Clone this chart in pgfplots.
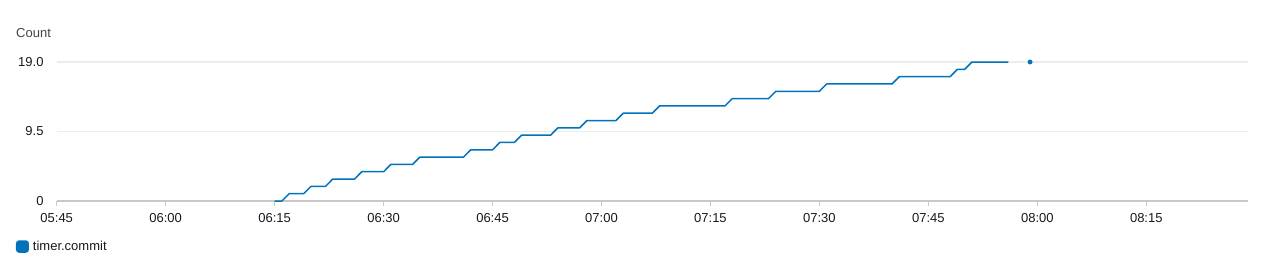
\documentclass[border=0pt]{standalone}
\usepackage{pgfplots}
\pgfplotsset{compat=1.18}
\usepackage{fontspec}
\setmainfont{Liberation Sans}
\definecolor{cwblue}{RGB}{0,115,187}
\definecolor{axgray}{RGB}{200,200,200}
\definecolor{gridgray}{RGB}{236,236,236}
\definecolor{txt}{RGB}{22,25,31}
\definecolor{lbl}{RGB}{68,68,68}
\begin{document}
\begin{tikzpicture}
\path[use as bounding box] (-56.7pt,-73pt) rectangle (1219.3pt,201pt);
\begin{axis}[
  at={(0pt,0pt)}, anchor=south west,
  scale only axis, width=1191.3pt, height=139pt,
  xmin=345, xmax=509, ymin=0, ymax=19,
  axis x line*=bottom, axis y line*=left,
  x axis line style={draw=axgray, line width=2pt, -},
  y axis line style={draw=none},
  xtick={345,360,375,390,405,420,435,450,465,480,495},
  xticklabels={05:45,06:00,06:15,06:30,06:45,07:00,07:15,07:30,07:45,08:00,08:15},
  ytick={0,9.5,19},
  yticklabels={0,9.5,19.0},
  tick align=outside,
  major tick length=5pt,
  xtick style={draw=axgray, line width=1pt},
  ytick style={draw=none},
  ymajorgrids,
  grid style={draw=gridgray, line width=1.2pt},
  ticklabel style={font=\fontsize{13}{15}\selectfont, text=txt, inner sep=0pt},
  xticklabel style={anchor=north, yshift=-7pt},
  yticklabel style={anchor=east, xshift=-8pt},
  ylabel={Count},
  ylabel style={rotate=-90, at={(axis description cs:-0.03416,1.2086)}, anchor=west, inner sep=0pt, font=\fontsize{13}{15}\selectfont, text=lbl},
  legend entries={timer.commit},
  legend style={at={(axis description cs:-0.0342,-0.274)}, anchor=north west, draw=none, fill=none, inner sep=0pt, outer sep=0pt, font=\fontsize{13}{15}\selectfont, text=txt,
    /tikz/every odd column/.append style={column sep=2pt}},
  legend cell align=left,
  legend image code/.code={\fill[cwblue, rounded corners=2.5pt] (0pt,-5.5pt) rectangle (11.5pt,5.5pt);},
  clip=false,
]
\addplot[cwblue, line width=1.5pt, line join=round] coordinates {
(375,0) (376,0) (377,1) (379,1) (380,2) (382,2) (383,3) (386,3) (387,4) (390,4)
(391,5) (394,5) (395,6) (401,6) (402,7) (405,7) (406,8) (408,8) (409,9) (413,9)
(414,10) (417,10) (418,11) (422,11) (423,12) (427,12) (428,13) (437,13) (438,14) (443,14)
(444,15) (450,15) (451,16) (460,16) (461,17) (468,17) (469,18) (470,18) (471,19) (476,19)
};
\addplot[forget plot, only marks, mark=*, mark size=2.2pt, cwblue] coordinates {(479,19)};
\end{axis}
\end{tikzpicture}
\end{document}
